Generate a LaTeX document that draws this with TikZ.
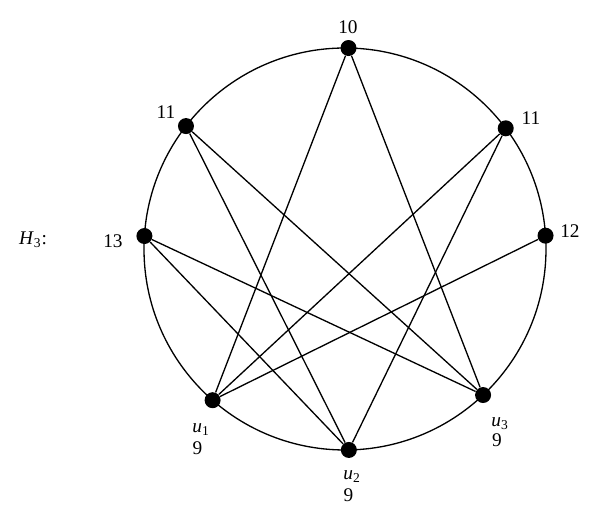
\documentclass[tikz,border=0pt]{standalone}
\usepackage{fontspec}
\setmainfont{Liberation Serif}
\begin{document}
\begin{tikzpicture}[
  vtx/.style={circle, fill=black, inner sep=0pt, minimum size=0.32cm},
  lbl/.style={font=\fontsize{11}{13}\selectfont, anchor=base, inner sep=0pt},
  chord/.style={line width=0.75pt}]
\useasboundingbox (-6.90,-5.48) rectangle (5.10,4.98);
%% ---- outer cycle ----
\draw[chord] (0,0) circle (4.02);
%% ---- vertices ----
\node[vtx] (v10)  at (89:4.02)    {};
\node[vtx] (v11a) at (142.3:4.02) {};
\node[vtx] (v11b) at (36.9:4.02)  {};
\node[vtx] (v13)  at (176.3:4.02) {};
\node[vtx] (v12)  at (3.8:4.02)   {};
\node[vtx] (u1)   at (228.8:4.02) {};
\node[vtx] (u2)   at (271.1:4.02) {};
\node[vtx] (u3)   at (313.4:4.02) {};
%% ---- chords ----
\foreach \s/\t in {v10/u1, v10/u3, v11a/u2, v11a/u3, v11b/u1, v11b/u2, v13/u2, v13/u3, v12/u1}
  \draw[chord] (\s) -- (\t);
%% ---- labels ----
\node[lbl] (l10)  at (0.06,4.30)   {10};
\node[lbl] (l11a) at (-3.58,2.60)  {11};
\node[lbl] (l11b) at (3.72,2.48)   {11};
\node[lbl] (l12)  at (4.50,0.22)   {12};
\node[lbl] (l13)  at (-4.64,0.02)  {13};
\node[lbl] (lu1)  at (-2.88,-3.68) {\textit{u}\textsubscript{1}};
\node[lbl] (w1)   at (-2.95,-4.12) {9};
\node[lbl] (lu2)  at (0.14,-4.62)  {\textit{u}\textsubscript{2}};
\node[lbl] (w2)   at (0.07,-5.06)  {9};
\node[lbl] (lu3)  at (3.10,-3.56)  {\textit{u}\textsubscript{3}};
\node[lbl] (w3)   at (3.04,-3.96)  {9};
\node[lbl] (name) at (-6.24,0.08)  {\textit{H}\textsubscript{3}:};
\end{tikzpicture}
\end{document}
